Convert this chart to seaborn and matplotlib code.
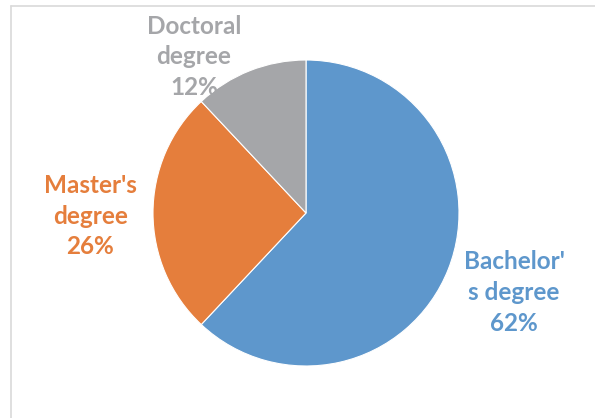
import matplotlib
matplotlib.use("Agg")
import matplotlib.pyplot as plt
import seaborn as sns
from matplotlib.lines import Line2D

# data
categories = ["Bachelor's degree", "Master's degree", "Doctoral degree"]
shares = [62, 26, 12]
label_text = ["Bachelor'\ns degree\n62%", "Master's\ndegree\n26%", "Doctoral\ndegree\n12%"]
colors = ["#5E97CC", "#E57E3C", "#A5A6A9"]

sns.set_theme(style="white")
plt.rcParams['font.family'] = ['Lato', 'DejaVu Sans']

fig = plt.figure(figsize=(5.95, 4.18), dpi=100)
ax = fig.add_axes([0, 0, 1, 1])

wedges, _ = ax.pie(shares, colors=colors, startangle=90, counterclock=False,
                   radius=1.0, center=(0, 0),
                   wedgeprops=dict(edgecolor="white", linewidth=0.8))

# label positions (data units, radius = 1)
label_pos = [(1.36, -0.52), (-1.41, -0.02), (-0.732, 1.02)]
for txt, (x, y), c in zip(label_text, label_pos, colors):
    ax.text(x, y, txt, ha="center", va="center", color=c, fontsize=17.5,
            fontweight="bold", linespacing=1.4)

ax.set_xlim(-306 / 153, (595 - 306) / 153)
ax.set_ylim(-(418 - 213) / 153, 213 / 153)
ax.set_aspect("equal")
ax.axis("off")

# chart-area border (left and top edges visible)
fig.add_artist(Line2D([10.5 / 595, 10.5 / 595], [0, 1 - 6 / 418], transform=fig.transFigure,
                      color="#D9D9D9", linewidth=1.2))
fig.add_artist(Line2D([10.5 / 595, 1], [1 - 6 / 418, 1 - 6 / 418], transform=fig.transFigure,
                      color="#D9D9D9", linewidth=1.2))

fig.savefig("out.png", dpi=100, facecolor="white")
